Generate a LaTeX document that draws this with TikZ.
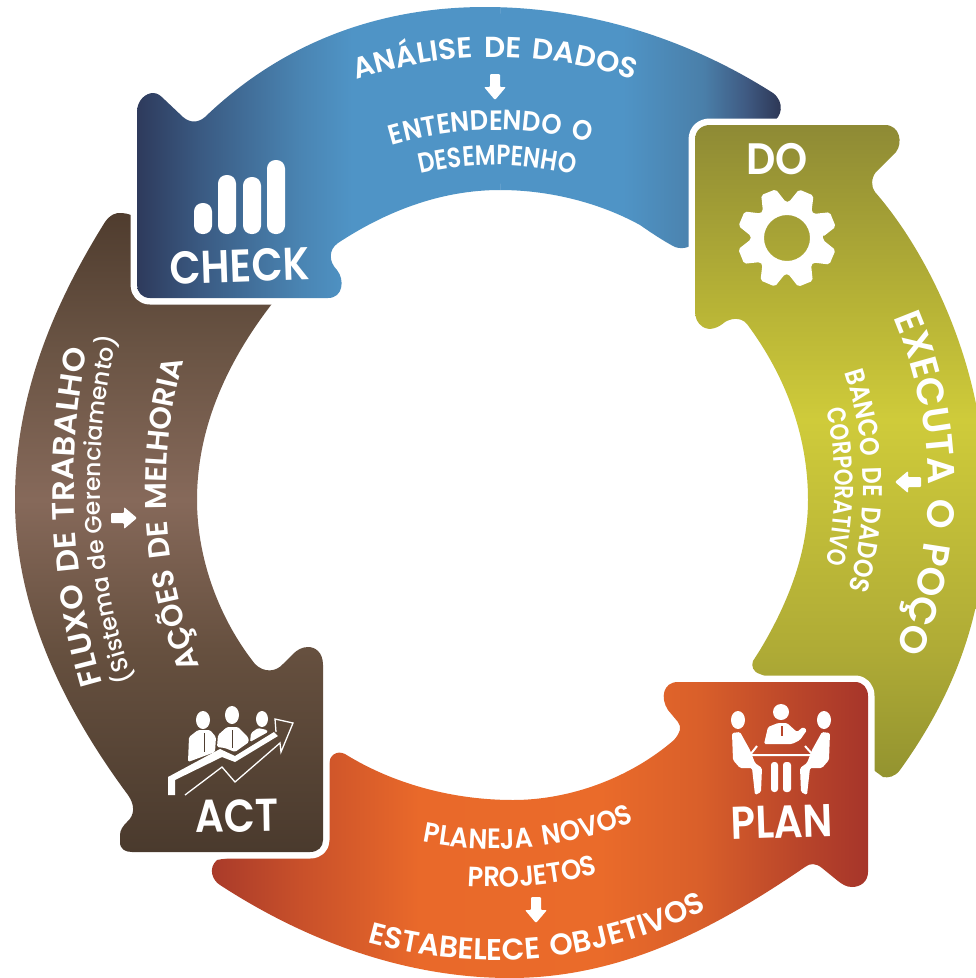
\documentclass[tikz,border=0pt]{standalone}
\usepackage{fontspec}
\usepackage{graphicx}
\setmainfont{Poppins}[BoldFont={Poppins SemiBold}]
\newfontfamily\ringmedium{Poppins Medium}
\usetikzlibrary{calc,decorations.text}
\definecolor{brownmark}{HTML}{4F3E31}
\definecolor{orangemark}{HTML}{B8452A}
\definecolor{ba}{HTML}{2E3A5C}\definecolor{bb}{HTML}{3A5A82}\definecolor{bc}{HTML}{4A85B3}\definecolor{bd}{HTML}{4F94C6}\definecolor{be}{HTML}{4A7FA9}\definecolor{bf}{HTML}{3F5A82}\definecolor{bg}{HTML}{2B3350}
\definecolor{oa}{HTML}{93932F}\definecolor{ob}{HTML}{AFAB36}\definecolor{oc}{HTML}{CFCB3A}\definecolor{od}{HTML}{B6B236}\definecolor{oe}{HTML}{8E8A35}
\definecolor{na}{HTML}{4A3A2D}\definecolor{nb}{HTML}{66503F}\definecolor{nc}{HTML}{86695A}\definecolor{nd}{HTML}{6A5444}\definecolor{ne}{HTML}{4F3C2E}
\definecolor{ra}{HTML}{A83A2A}\definecolor{rb}{HTML}{C8502A}\definecolor{rc}{HTML}{E9692A}\definecolor{rd}{HTML}{EA6B2A}\definecolor{re}{HTML}{D95F2A}\definecolor{rf}{HTML}{B9452A}\definecolor{rg}{HTML}{A6352A}
\pgfdeclarehorizontalshading{bluegrad}{100bp}{color(0bp)=(ba); color(25bp)=(ba); color(29.9bp)=(bb); color(37.7bp)=(bc); color(41.6bp)=(bd); color(62.5bp)=(bd); color(68.7bp)=(be); color(72bp)=(bf); color(75bp)=(bg); color(100bp)=(bg)}
\pgfdeclareverticalshading{olivegrad}{100bp}{color(0bp)=(oa); color(25bp)=(oa); color(34.8bp)=(ob); color(52.4bp)=(oc); color(61.6bp)=(od); color(75bp)=(oe); color(100bp)=(oe)}
\pgfdeclareverticalshading{browngrad}{100bp}{color(0bp)=(na); color(25bp)=(na); color(40.8bp)=(nb); color(52.5bp)=(nc); color(64.3bp)=(nd); color(75bp)=(ne); color(100bp)=(ne)}
\pgfdeclarehorizontalshading{orangegrad}{100bp}{color(0bp)=(ra); color(25bp)=(ra); color(32bp)=(rb); color(41bp)=(rc); color(54.7bp)=(rd); color(62.3bp)=(re); color(69.8bp)=(rf); color(75bp)=(rg); color(100bp)=(rg)}
\def\bluepath{(137,112) .. controls (137,100) and (146,93) .. (153,93) .. controls (158,93) and (161,96) .. (165,100) -- (183,117) .. controls (190,123) and (198,123) .. (205,117) .. controls (280,45) and (375,7) .. (485,7) .. controls (590,7) and (690,40) .. (773,93) .. controls (785,102) and (782,118) .. (772,122) -- (700,122) -- (700,238) .. controls (692,247) and (684,250) .. (675,247) .. controls (665,242) and (650,232) .. (640,225) .. controls (600,203) and (550,190) .. (500,190) .. controls (440,190) and (385,212) .. (338,243) .. controls (328,250) and (329,262) .. (337,270) .. controls (345,280) and (343,298) .. (328,298) -- (150,298) .. controls (142,298) and (137,292) .. (137,285) -- cycle}
\def\olivepath{(695,140) .. controls (695,130) and (702,125) .. (710,125) -- (885,125) .. controls (900,125) and (903,143) .. (896,152) -- (876,172) .. controls (871,178) and (871,187) .. (875,192) .. controls (930,255) and (985,370) .. (985,490) .. controls (990,590) and (965,680) .. (900,770) .. controls (895,777) and (888,778) .. (883,777) -- (860,760) -- (800,690) -- (760,674) .. controls (753,672) and (751,666) .. (753,661) -- (760,650) .. controls (790,600) and (808,550) .. (808,500) .. controls (808,435) and (785,375) .. (747,324) .. controls (740,316) and (730,319) .. (725,322) .. controls (718,328) and (710,331) .. (703,327) .. controls (697,323) and (695,318) .. (695,310) -- cycle}
\def\orangepath{(678,682) -- (855,682) .. controls (863,682) and (868,688) .. (868,696) -- (868,872) .. controls (868,882) and (860,887) .. (852,887) .. controls (846,887) and (842,884) .. (838,881) -- (822,868) .. controls (816,863) and (810,863) .. (805,867) .. controls (720,925) and (625,978) .. (510,978) .. controls (420,978) and (320,950) .. (220,885) .. controls (212,880) and (208,868) .. (217,860) -- (300,845) -- (325,800) -- (329,765) .. controls (329,755) and (337,750) .. (345,754) .. controls (395,785) and (455,800) .. (513,800) .. controls (570,800) and (630,778) .. (674,740) .. controls (680,733) and (682,727) .. (678,722) -- (668,710) .. controls (660,698) and (663,682) .. (678,682) -- cycle}
\def\brownpath{(105,222) .. controls (110,215) and (116,212) .. (122,213) .. controls (135,214) and (145,222) .. (145,235) -- (145,285) -- (283,290) .. controls (225,360) and (197,430) .. (197,500) .. controls (197,560) and (220,620) .. (255,664) .. controls (264,673) and (276,672) .. (283,664) -- (293,654) .. controls (297,650) and (302,647) .. (308,647) .. controls (315,647) and (323,652) .. (323,665) -- (323,840) .. controls (323,847) and (318,852) .. (310,852) -- (132,852) .. controls (125,852) and (120,849) .. (120,842) -- (120,835) .. controls (120,830) and (123,826) .. (127,822) .. controls (135,815) and (135,805) .. (128,795) .. controls (65,710) and (15,610) .. (15,500) .. controls (15,400) and (50,310) .. (105,222) -- cycle}
\newcommand\rf[2]{\fontsize{#1}{#1}\bfseries\selectfont\addfontfeature{FakeStretch=#2}\fontdimen2\font=.36em }
\newcommand\rl[2]{\fontsize{#1}{#1}\ringmedium\selectfont\addfontfeature{FakeStretch=#2}}
\tikzset{
 ringedge/.style={draw=white,line width=13pt,line join=round},
 ringtext/.style={decorate,decoration={text along path,text align=center,text color=white,text={#1}}},
 arrowglyph/.pic={\fill[white,rounded corners=1pt] (-5,-13) -- (5,-13) -- (5,0) -- (11,0) -- (0,13) -- (-11,0) -- (-5,0) -- cycle;},
 stagelabel/.style={text=white,inner sep=0pt,font=\fontsize{46}{48}\bfseries\selectfont},
}
\begin{document}
\begin{tikzpicture}[x=1pt,y=-1pt]
\useasboundingbox (0,0) rectangle (976,978);
\clip (0,0) rectangle (976,978);
\coordinate (c) at (495,487);
\coordinate (cfluxo) at (774,487);
\coordinate (csist) at (700,482);
\coordinate (cacoes) at (646,489);
% ring, back to front
\path[ringedge] \bluepath; \shade[shading=bluegrad] \bluepath;
\path[ringedge] \olivepath; \shade[shading=olivegrad] \olivepath;
\path[ringedge] \orangepath; \shade[shading=orangegrad] \orangepath;
\path[ringedge] \brownpath; \shade[shading=browngrad] \brownpath;
\begin{scope}
\clip (0,0) rectangle (500,400);
\path[ringedge] \bluepath; \shade[shading=bluegrad] \bluepath;
\end{scope}
% curved texts
\path[ringtext={|\rf{29}{1.02}|ANÁLISE DE DADOS}] ($(c)+(235:430)$) arc[start angle=235,end angle=305,radius=430];
\path[ringtext={|\rf{28}{.92}|ENTENDENDO O}] ($(c)+(229.3:357)$) arc[start angle=229.3,end angle=309.3,radius=357];
\path[ringtext={|\rf{28}{.83}|DESEMPENHO}] ($(c)+(230.4:322)$) arc[start angle=230.4,end angle=310.4,radius=322];
\pic at (495,87) {arrowglyph};
\path[ringtext={|\rf{38}{1}|EXECUTA O POÇO}] ($(c)+(-35:433)$) arc[start angle=-35,end angle=34,radius=433];
\path[ringtext={|\rf{27}{.88}|BANCO DE DADOS}] ($(c)+(-31:368)$) arc[start angle=-31,end angle=29,radius=368];
\path[ringtext={|\rf{26}{.82}|CORPORATIVO}] ($(c)+(-30:340)$) arc[start angle=-30,end angle=30,radius=340];
\pic[rotate=-90] at (908,482) {arrowglyph};
\path[ringtext={|\rf{30}{.99}|ESTABELECE OBJETIVOS}] ($(c)+(120:473)$) arc[start angle=120,end angle=49,radius=473];
\path[ringtext={|\rf{28}{.92}|PLANEJA NOVOS}] ($(c)+(125:362)$) arc[start angle=125,end angle=44,radius=362];
\path[ringtext={|\rf{28}{.92}|PROJETOS}] ($(c)+(125:400)$) arc[start angle=125,end angle=44,radius=400];
\pic at (536,910) {arrowglyph};
\path[ringtext={|\rf{31}{1.05}|FLUXO DE TRABALHO}] ($(cfluxo)+(143.5:700)$) arc[start angle=143.5,end angle=211.5,radius=700];
\path[ringtext={|\rl{23.5}{1}|(Sistema de Gerenciamento)}] ($(csist)+(137.3:600)$) arc[start angle=137.3,end angle=217.3,radius=600];
\path[ringtext={|\rf{30}{1}|AÇÕES DE MELHORIA}] ($(cacoes)+(139.9:480)$) arc[start angle=139.9,end angle=213.9,radius=480];
\pic[rotate=90] at (124,518) {arrowglyph};
% CHECK
\node[stagelabel,rotate=2] (check) at (240,266) {\scalebox{.88}[1]{CHECK}};
\foreach \x/\t in {194/203,218/175,243/177,267/160}
  \fill[white,rounded corners=8.5pt] (\x,\t) rectangle (\x+18,234);
% DO
\node[stagelabel,font=\fontsize{44}{46}\bfseries\selectfont] (do) at (777,159) {\scalebox{.93}[1]{DO}};
\begin{scope}[shift={(787,238)}]
\fill[white,even odd rule,rounded corners=2pt]
 (-2:36) \foreach \a in {23,68,...,338} { -- (\a-20:36) -- (\a-9:50) -- (\a+9:50) -- (\a+20:36) } -- cycle
 (0,0) circle[radius=23];
\end{scope}
% PLAN
\node[stagelabel,rotate=2] (plan) at (782,822) {\scalebox{.88}[1]{PLAN}};
\fill[white] (781,712) circle[radius=8];
\fill[white,rounded corners=1.5pt] (764,744) -- (768,727) -- (778,723) -- (787,723) -- (797,732) -- (803,727) -- (807,730) -- (800,740) -- (792,744) -- cycle;
\draw[orangemark,line width=1.2pt] (782,726) -- (782,736);
\fill[white] (738,720) ellipse[x radius=7,y radius=9];
\fill[white] (824,720) ellipse[x radius=7,y radius=9];
\fill[white,rounded corners=1.5pt] (732,733) -- (740,732) -- (750,750) -- (755,763) -- (762,768) -- (761,792) -- (755,795) -- (752,768) -- (740,768) -- (733,760) -- cycle;
\fill[white,rounded corners=1.5pt] (830,733) -- (822,732) -- (812,750) -- (807,763) -- (800,768) -- (801,792) -- (807,795) -- (810,768) -- (822,768) -- (829,760) -- cycle;
\draw[white,line width=2pt] (757,746) -- (750,755) -- (813,755) -- (805,746);
\fill[white,rounded corners=3pt] (771,762) rectangle (778,792);
\fill[white,rounded corners=3pt] (783,762) rectangle (791,792);
% ACT
\node[stagelabel,rotate=1] (act) at (237,816) {\scalebox{.88}[1]{ACT}};
\fill[white] (203,720) ellipse[x radius=7,y radius=9];
\fill[white] (232,715) ellipse[x radius=7,y radius=9];
\fill[white] (262,719) ellipse[x radius=6,y radius=8];
\fill[white,rounded corners=1.5pt] (188,762) -- (189,737) -- (198,730) -- (210,730) -- (216,737) -- (215,752) -- cycle;
\fill[white,rounded corners=1.5pt] (217,747) -- (218,735) -- (227,727) -- (238,727) -- (248,737) -- (249,742) -- (235,752) -- (225,748) -- cycle;
\fill[white,rounded corners=1.5pt] (250,742) -- (251,733) -- (258,728) -- (267,730) -- (268,732) -- cycle;
\draw[brownmark,line width=1pt] (204,733) -- (204,752);
\draw[brownmark,line width=1pt] (232,730) -- (232,748);
\fill[white] (168,795) -- (168,777) -- (220,749) -- (235,756) -- (274,732) -- (278,736) -- (235,762) -- (222,757) -- (175,780) -- (175,795) -- cycle;
\draw[white,line width=1.3pt] (185,795) -- (222,767) -- (235,782) -- (280,743) -- (281,752) -- (293,723) -- (275,719) -- (276,732);
\end{tikzpicture}
\end{document}
